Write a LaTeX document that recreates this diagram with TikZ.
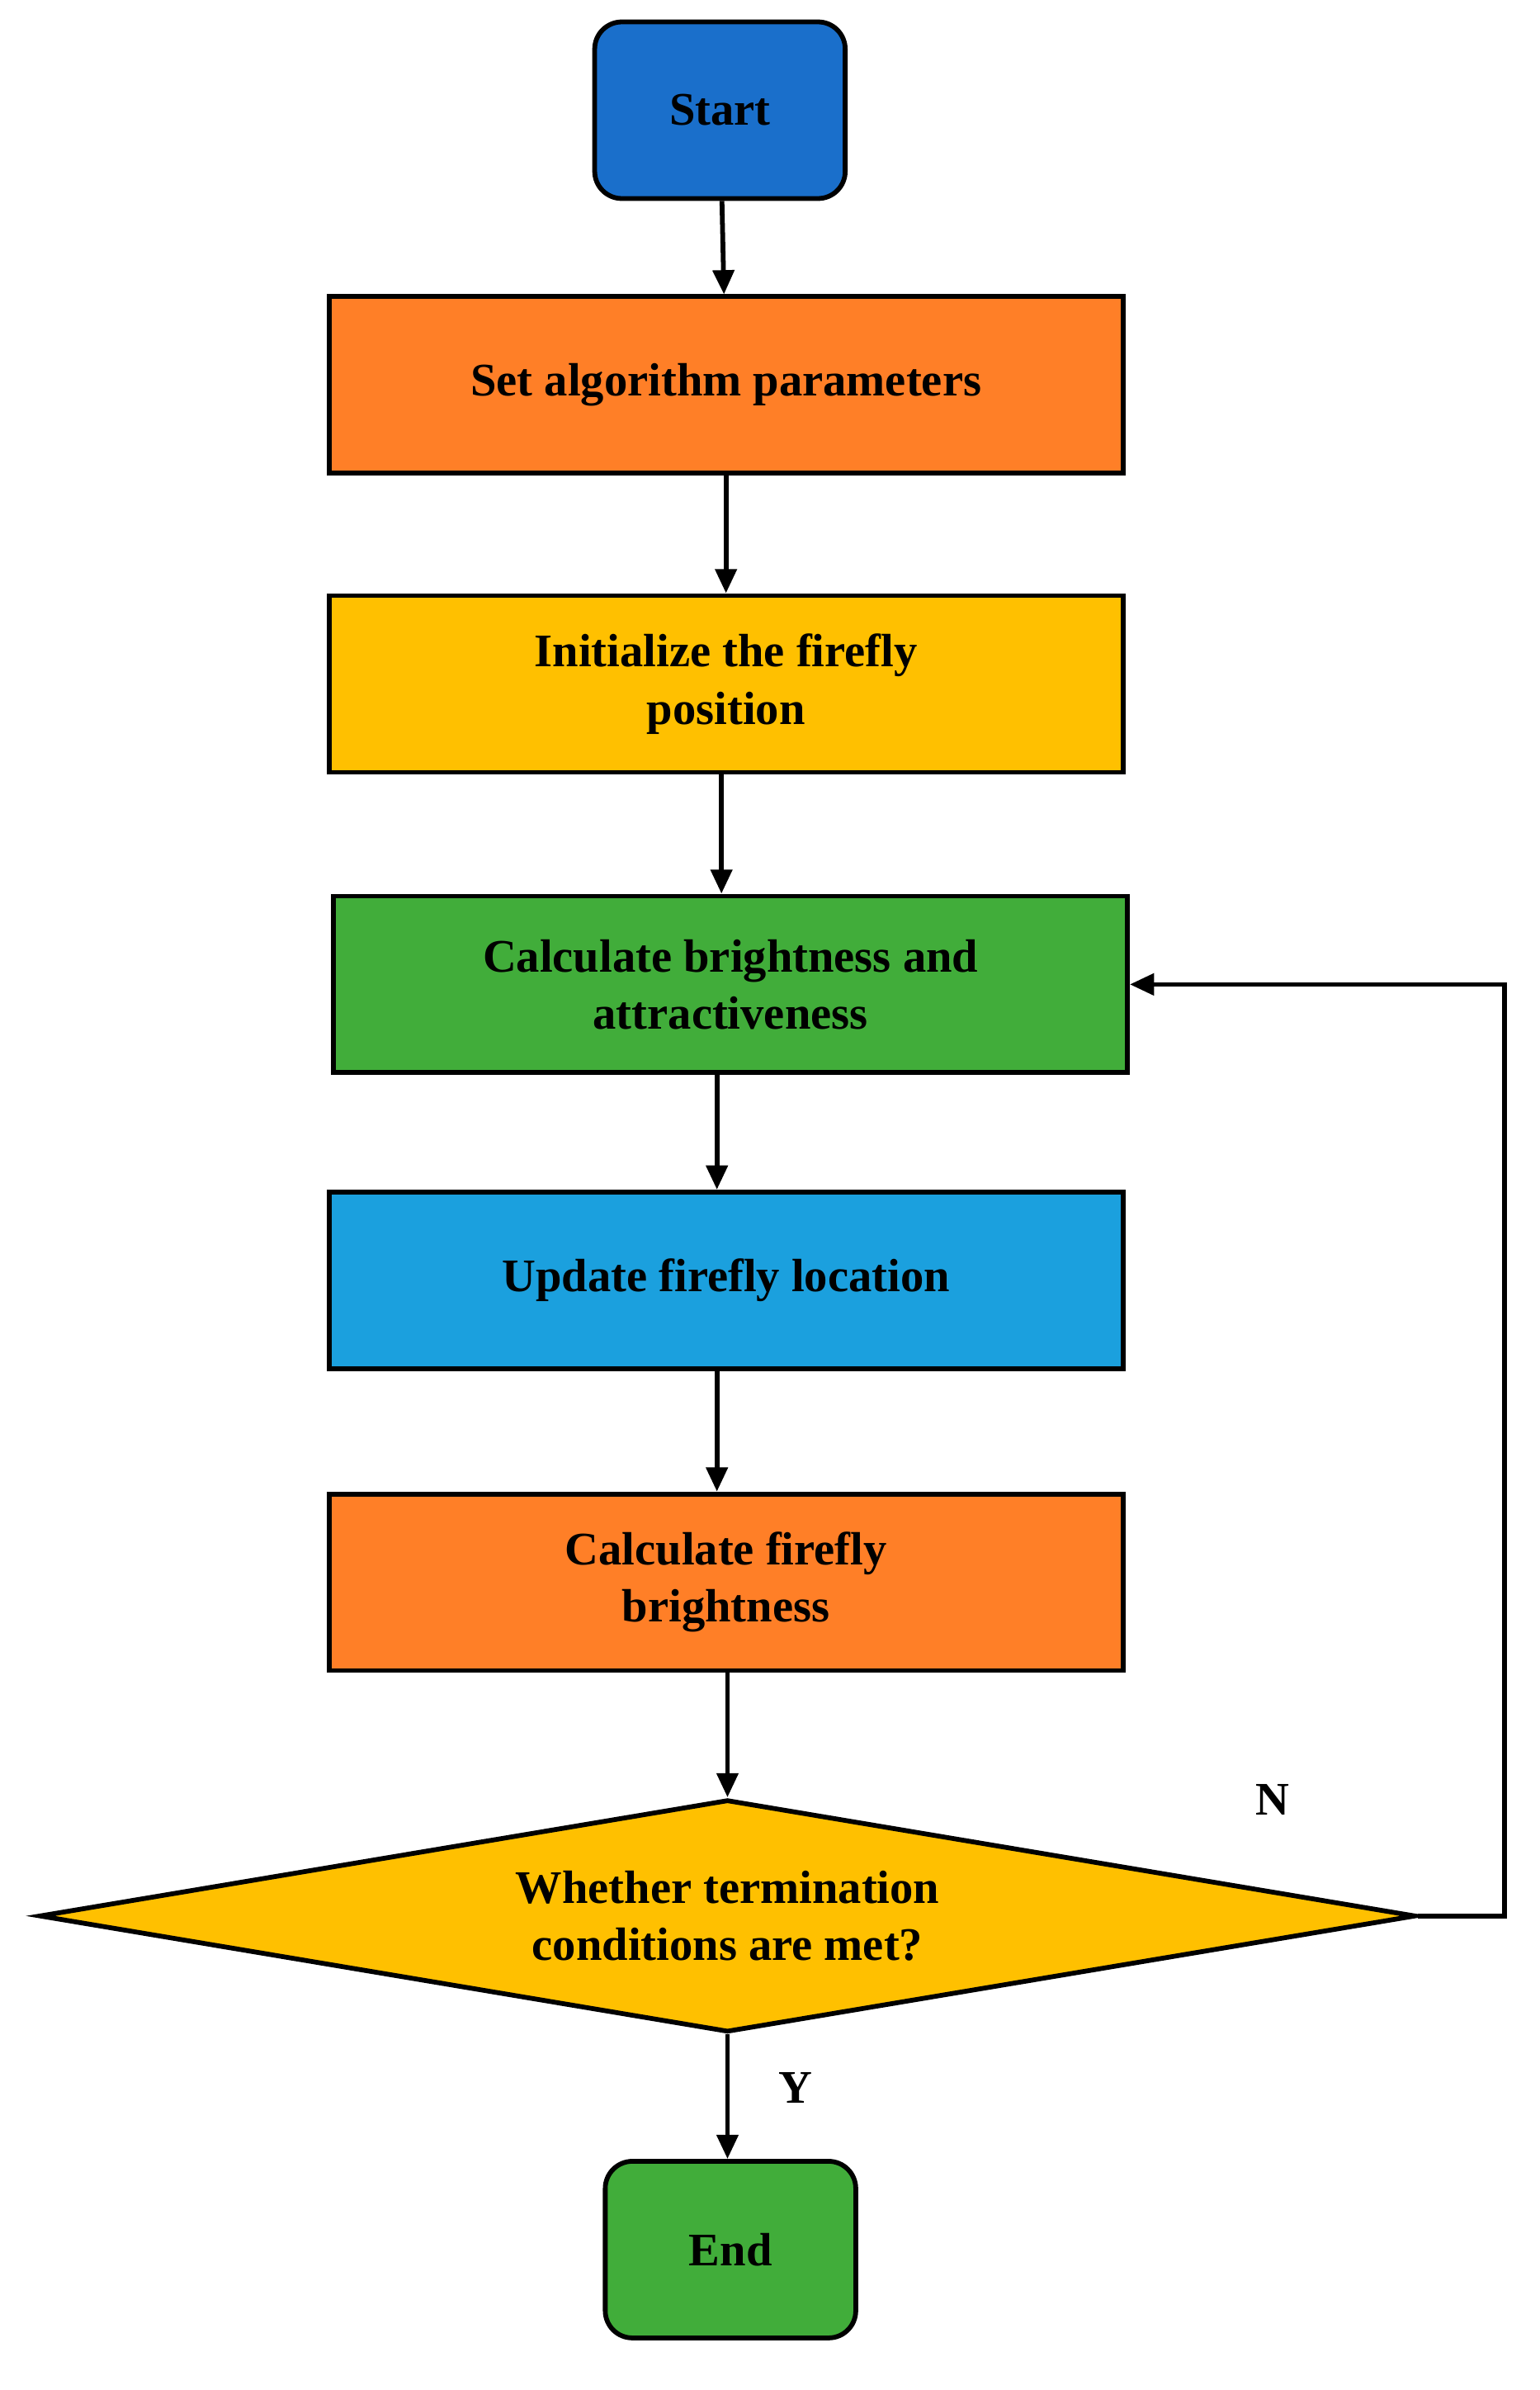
\documentclass[tikz,border=0pt]{standalone}
\usepackage{fontspec}
\setmainfont{Liberation Serif}
\usetikzlibrary{shapes.geometric,arrows.meta}
\definecolor{cblue}{HTML}{1A6FCB}
\definecolor{corange}{HTML}{FF7F27}
\definecolor{cyellow}{HTML}{FFC000}
\definecolor{cgreen}{HTML}{41AD3A}
\definecolor{clblue}{HTML}{1BA0DE}
\begin{document}
\begin{tikzpicture}[x=0.05cm,y=-0.05cm,
  box/.style={draw=black,line width=4.5pt,minimum width=26.3cm,minimum height=5.85cm,align=center,font=\fontsize{44}{54}\selectfont\bfseries,inner sep=0pt},
  term/.style={box,rounded corners=0.9cm,minimum width=8.3cm},
  arr/.style={line width=4.5pt,-{Triangle[length=0.8cm,width=0.7cm]}},
  lab/.style={font=\fontsize{44}{54}\selectfont\bfseries}]
\useasboundingbox (0,0) rectangle (1020,1583);
\node[term,fill=cblue] (s) at (477,73) {Start};
\node[box,fill=corange] (a) at (481,255) {Set algorithm parameters};
\node[box,fill=cyellow] (b) at (481,453) {Initialize the firefly\\position};
\node[box,fill=cgreen] (c) at (484,652) {Calculate brightness and\\attractiveness};
\node[box,fill=clblue] (d) at (481,848) {Update firefly location};
\node[box,fill=corange] (e) at (481,1048) {Calculate firefly\\brightness};
\node[diamond,draw=black,line width=4.5pt,fill=cyellow,aspect=5.9,minimum width=45.6cm,minimum height=7.7cm,inner sep=0pt,align=center,font=\fontsize{44}{54}\selectfont\bfseries] (f) at (482,1269) {Whether termination\\conditions are met?};
\node[term,fill=cgreen] (g) at (484,1490) {End};
\draw[arr] (s) -- (a);
\draw[arr] (a) -- (b);
\draw[arr] (b.south -| 478,0) -- (c.north -| 478,0);
\draw[arr] (c.south -| 475,0) -- (d.north -| 475,0);
\draw[arr] (d.south -| 475,0) -- (e.north -| 475,0);
\draw[arr] (e.south -| 482,0) -- (f.north);
\draw[arr] (f.south) -- (g.north -| f.south);
\coordinate (r) at (997,1269);
\draw[arr] (f.east) -- (r) |- (c.east);
\node[lab] (n) at (843,1192) {N};
\node[lab] (y) at (527,1383) {Y};
\end{tikzpicture}
\end{document}
